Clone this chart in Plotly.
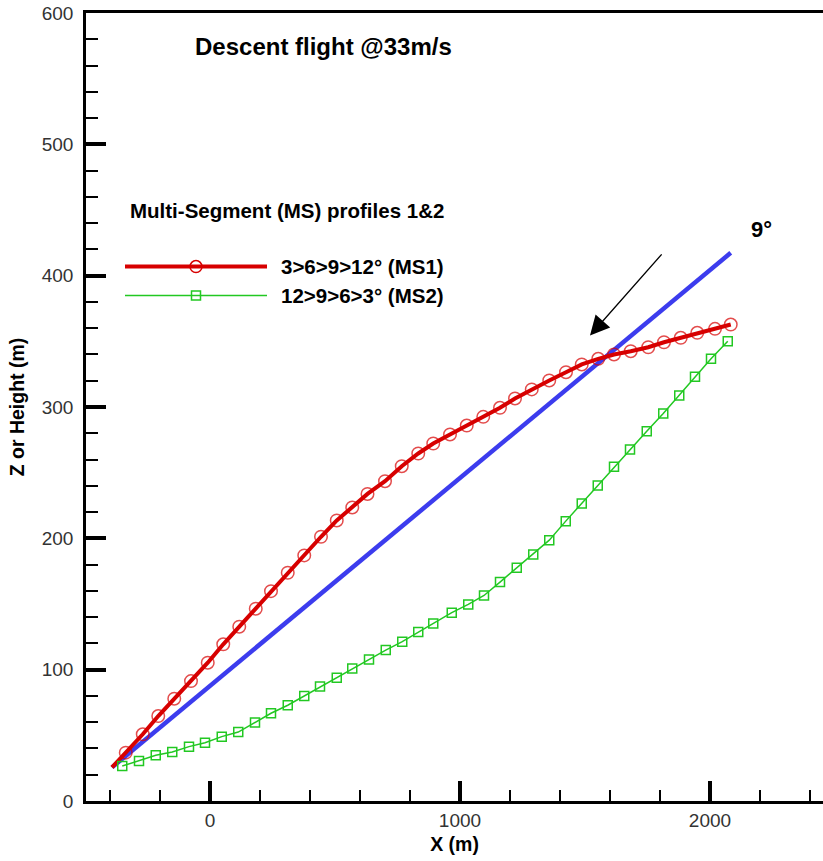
import plotly.graph_objects as go

# ---------------- data ----------------
# 9 deg constant glide slope
glide9_x = [-392, 2083]
glide9_z = [25.6, 417.4]

# MS1 : 3>6>9>12 deg
ms1_x = [-392, -337, -269, -207, -143, -76, -9, 53, 117, 183, 244, 311, 377, 444,
         507, 569, 630, 700, 767, 833, 893, 960, 1027, 1093, 1160, 1220, 1287,
         1357, 1424, 1487, 1553, 1616, 1683, 1753, 1816, 1883, 1949, 2020, 2083]
ms1_z = [25.6, 36.8, 50.8, 64.7, 77.9, 91.3, 105.3, 119.3, 132.7, 146.4, 159.8,
         173.8, 187.0, 201.2, 213.6, 223.5, 233.8, 243.5, 254.9, 264.6, 272.2,
         279.1, 285.9, 292.5, 299.4, 306.5, 313.4, 320.2, 326.5, 332.4, 336.7,
         340.0, 342.5, 345.5, 349.3, 352.7, 356.5, 359.5, 362.8]

# MS2 : 12>9>6>3 deg
ms2_x = [-351, -284, -217, -151, -84, -20, 47, 113, 180, 244, 311, 377, 440, 507,
         569, 636, 703, 769, 833, 893, 967, 1033, 1096, 1160, 1227, 1293, 1357,
         1423, 1487, 1551, 1616, 1680, 1747, 1813, 1877, 1940, 2004, 2071]
ms2_z = [26.6, 30.4, 34.8, 37.3, 41.4, 44.4, 49.0, 52.5, 59.7, 66.8, 72.9, 79.9,
         87.1, 93.9, 100.8, 107.8, 114.9, 121.3, 128.6, 135.2, 143.4, 149.7,
         156.5, 166.7, 177.6, 187.7, 198.6, 213.1, 226.6, 240.3, 254.5, 267.7,
         281.6, 295.1, 308.8, 323.0, 336.7, 350.1]

x_tickvals = [0, 1000, 2000]
y_tickvals = [0, 100, 200, 300, 400, 500, 600]

RED = "rgb(215,0,0)"
BLUE = "rgb(60,60,238)"
GREEN = "rgb(34,200,34)"
FONT = "Liberation Sans, Arial, sans-serif"

fig = go.Figure()

fig.add_trace(go.Scatter(x=glide9_x, y=glide9_z, mode="lines",
                         line=dict(color=BLUE, width=4.5), name="9°",
                         showlegend=False))
fig.add_trace(go.Scatter(x=ms1_x, y=ms1_z, mode="lines+markers",
                         line=dict(color=RED, width=4),
                         marker=dict(symbol="circle-open",
                                     size=[0] + [12.5] * (len(ms1_x) - 1),
                                     color=RED, line=dict(width=1.5, color=RED)),
                         name="3>6>9>12° (MS1)", showlegend=False))
fig.add_trace(go.Scatter(x=ms2_x, y=ms2_z, mode="lines+markers",
                         line=dict(color=GREEN, width=1.5),
                         marker=dict(symbol="square-open", size=9, color=GREEN,
                                     line=dict(width=1.5, color=GREEN)),
                         name="12>9>6>3° (MS2)", showlegend=False))

# ---------------- hand-made legend (long sample lines) ----------------
leg_x0, leg_x1, leg_xm = -340, 228, -56
leg_y1, leg_y2 = 406.9, 384.9
shapes = [
    dict(type="line", xref="x", yref="y", x0=leg_x0, x1=leg_x1, y0=leg_y1, y1=leg_y1,
         line=dict(color=RED, width=4)),
    dict(type="circle", xref="x", yref="y", xsizemode="pixel", ysizemode="pixel",
         xanchor=leg_xm, yanchor=leg_y1, x0=-6, x1=6, y0=-6, y1=6,
         line=dict(color=RED, width=1.5)),
    dict(type="line", xref="x", yref="y", x0=leg_x0, x1=leg_x1, y0=leg_y2, y1=leg_y2,
         line=dict(color=GREEN, width=1.5)),
    dict(type="rect", xref="x", yref="y", xsizemode="pixel", ysizemode="pixel",
         xanchor=leg_xm, yanchor=leg_y2, x0=-4.5, x1=4.5, y0=-4.5, y1=4.5,
         line=dict(color=GREEN, width=1.5)),
]

annotations = [
    dict(text="<b>Descent flight @33m/s</b>", x=-70, y=574.4, xref="x", yref="y",
         xanchor="left", yanchor="middle", showarrow=False,
         font=dict(family=FONT, size=24, color="black")),
    dict(text="<b>Multi-Segment (MS) profiles 1&2</b>", x=-330, y=449.5, xref="x",
         yref="y", xanchor="left", yanchor="middle", showarrow=False,
         font=dict(family=FONT, size=20.5, color="black")),
    dict(text="<b>3>6>9>12° (MS1)</b>", x=276, y=leg_y1, xref="x", yref="y",
         xanchor="left", yanchor="middle", showarrow=False,
         font=dict(family=FONT, size=20.5, color="black")),
    dict(text="<b>12>9>6>3° (MS2)</b>", x=276, y=leg_y2, xref="x", yref="y",
         xanchor="left", yanchor="middle", showarrow=False,
         font=dict(family=FONT, size=20.5, color="black")),
    dict(text="<b>9°</b>", x=2155, y=435, xref="x", yref="y",
         xanchor="left", yanchor="middle", showarrow=False,
         font=dict(family=FONT, size=22, color="black")),
    dict(text="", x=1520, y=354.4, ax=1812, ay=417.4, xref="x", yref="y",
         axref="x", ayref="y", showarrow=True, arrowhead=2, arrowsize=3,
         arrowwidth=1.3, arrowcolor="black"),
]

axis_font = dict(family=FONT, size=19, color="#333333")

fig.update_layout(
    width=823, height=861,
    margin=dict(l=86, r=0, t=13, b=60),
    paper_bgcolor="white", plot_bgcolor="white",
    font=dict(family=FONT),
    shapes=shapes, annotations=annotations,
    showlegend=False,
    xaxis=dict(range=[-496, 2452], tickvals=x_tickvals, ticks="inside",
               ticklen=20, tickwidth=3.5, tickcolor="black",
               showline=True, linecolor="black", linewidth=2.5, mirror=True,
               showgrid=False, zeroline=False, tickfont=axis_font,
               minor=dict(ticks="inside", ticklen=11, tickwidth=1.5,
                          tickcolor="black", dtick=200, tick0=0, showgrid=False),
               title=dict(text="<b>X (m)</b>", standoff=8,
                          font=dict(family=FONT, size=19.5, color="black"))),
    yaxis=dict(range=[0, 600], tickvals=y_tickvals, ticks="inside",
               ticklen=20, tickwidth=3.5, tickcolor="black",
               showline=True, linecolor="black",
               linewidth=2.5, showgrid=False, zeroline=False, tickfont=axis_font,
               ticklabelstandoff=6,
               minor=dict(ticks="inside", ticklen=12, tickwidth=1.5,
                          tickcolor="black", dtick=20, tick0=0, showgrid=False),
               title=dict(text="<b>Z or Height (m)</b>", standoff=12,
                          font=dict(family=FONT, size=19.5, color="black"))),
)

fig.write_html("out.html")
